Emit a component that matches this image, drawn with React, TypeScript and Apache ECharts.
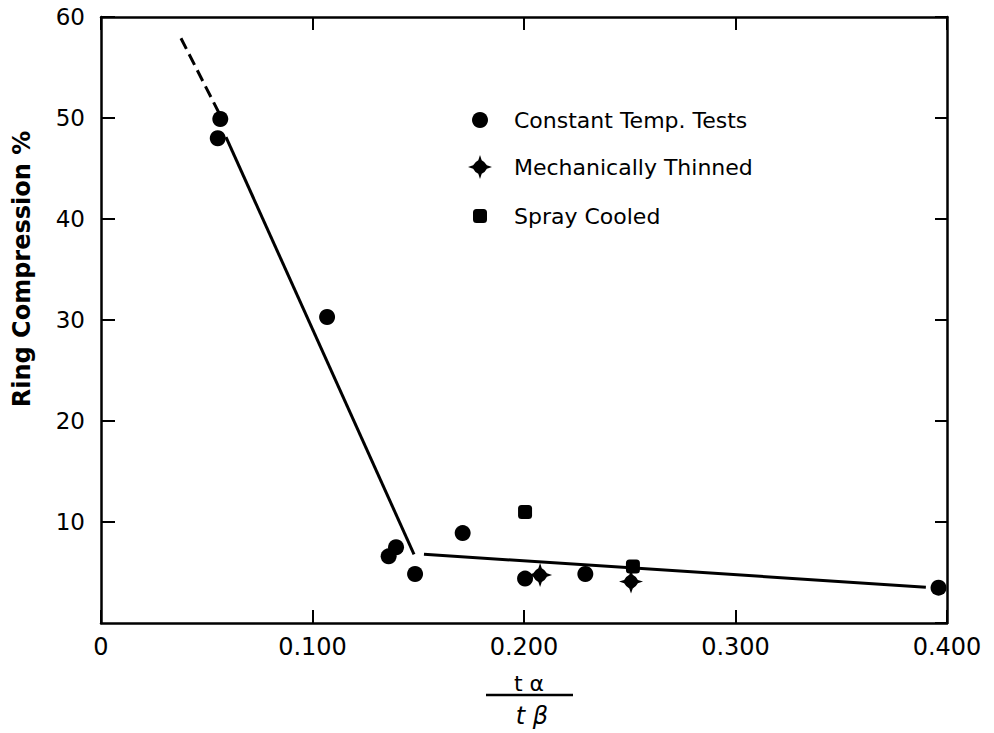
import React, { useEffect, useRef } from 'react';
import * as echarts from 'echarts';

// ---- data ----
const xTickValues = [0, 0.1, 0.2, 0.3, 0.4];
const yTickValues = [10, 20, 30, 40, 50, 60];

const constantTemp: [number, number][] = [
  [0.0564, 49.9],
  [0.0552, 48.0],
  [0.1069, 30.3],
  [0.136, 6.6],
  [0.1395, 7.5],
  [0.1485, 4.85],
  [0.171, 8.9],
  [0.2005, 4.4],
  [0.229, 4.85],
  [0.396, 3.5],
];
const mechThinned: [number, number][] = [
  [0.2076, 4.75],
  [0.2506, 4.1],
];
const sprayCooled: [number, number][] = [
  [0.2005, 11.0],
  [0.2515, 5.6],
];
const fitDashed: [number, number][] = [
  [0.0378, 57.9],
  [0.0558, 50.5],
];
const fitSteep: [number, number][] = [
  [0.0591, 48.1],
  [0.148, 6.8],
];
const fitFlat: [number, number][] = [
  [0.1527, 6.8],
  [0.39, 3.55],
];

const FONT = 'DejaVu Sans';
const STAR =
  'path://M14,0 L16,6 Q20,8 22,12 L28,14 L22,16 Q20,20 16,22 L14,28 L12,22 Q8,20 6,16 L0,14 L6,12 Q8,8 12,6 Z';

export default function App() {
  const ref = useRef<HTMLDivElement>(null);

  useEffect(() => {
    if (!ref.current) return;
    const chart = echarts.init(ref.current, undefined, { renderer: 'svg' });
    const axisLine = { show: true, onZero: false, lineStyle: { color: '#000', width: 2.5 } };
    const tick = (len: number) => ({
      show: true,
      inside: true,
      length: len,
      lineStyle: { color: '#000', width: 2 },
    });
    const legendBase = {
      orient: 'vertical' as const,
      padding: 0,
      selectedMode: false,
    };
    const markStyle = { color: '#000', opacity: 1 };
    chart.setOption({
      animation: false,
      backgroundColor: '#fff',
      grid: { left: 101, top: 17, width: 846, height: 606, show: false },
      xAxis: [
        {
          type: 'value',
          min: 0,
          max: 0.4,
          interval: 0.1,
          position: 'bottom',
          axisLine,
          axisTick: tick(13),
          splitLine: { show: false },
          axisLabel: {
            color: '#000',
            fontSize: 24,
            fontFamily: FONT,
            margin: 12,
            formatter: (v: number) =>
              xTickValues.includes(Math.round(v * 10) / 10)
                ? v === 0
                  ? '0'
                  : v.toFixed(3)
                : '',
          },
        },
        {
          type: 'value',
          min: 0,
          max: 0.4,
          interval: 0.1,
          position: 'top',
          axisLine,
          axisTick: tick(13),
          splitLine: { show: false },
          axisLabel: { show: false },
        },
      ],
      yAxis: [
        {
          type: 'value',
          min: 0,
          max: 60,
          interval: 10,
          position: 'left',
          axisLine,
          axisTick: tick(14),
          splitLine: { show: false },
          axisLabel: {
            color: '#000',
            fontSize: 23,
            fontFamily: FONT,
            margin: 16,
            showMinLabel: false,
            formatter: (v: number) => (yTickValues.includes(v) ? String(v) : ''),
          },
        },
        {
          type: 'value',
          min: 0,
          max: 60,
          interval: 10,
          position: 'right',
          axisLine,
          axisTick: tick(12),
          splitLine: { show: false },
          axisLabel: { show: false },
        },
      ],
      legend: [
        {
          ...legendBase,
          data: [{ name: 'Constant Temp. Tests', icon: 'circle' }],
          left: 472,
          top: 109,
          itemWidth: 16,
          itemHeight: 16,
          itemStyle: { opacity: 1 },
          textStyle: { fontSize: 22, fontFamily: FONT, color: '#000', padding: [0, 0, 0, 21] },
        },
        {
          ...legendBase,
          data: [{ name: 'Mechanically Thinned', icon: STAR }],
          left: 468,
          top: 155,
          itemWidth: 24,
          itemHeight: 24,
          itemStyle: { opacity: 1 },
          textStyle: { fontSize: 22, fontFamily: FONT, color: '#000', padding: [0, 0, 0, 17] },
        },
        {
          ...legendBase,
          data: [{ name: 'Spray Cooled', icon: 'roundRect' }],
          left: 473,
          top: 205,
          itemWidth: 14,
          itemHeight: 14,
          itemStyle: { opacity: 1 },
          textStyle: { fontSize: 22, fontFamily: FONT, color: '#000', padding: [0, 0, 0, 22] },
        },
      ],
      series: [
        {
          name: 'fit-dashed',
          type: 'line',
          data: fitDashed,
          showSymbol: false,
          silent: true,
          lineStyle: { color: '#000', width: 3, type: [12, 6] },
        },
        {
          name: 'fit-steep',
          type: 'line',
          data: fitSteep,
          showSymbol: false,
          silent: true,
          lineStyle: { color: '#000', width: 3 },
        },
        {
          name: 'fit-flat',
          type: 'line',
          data: fitFlat,
          showSymbol: false,
          silent: true,
          lineStyle: { color: '#000', width: 3 },
        },
        {
          name: 'Constant Temp. Tests',
          type: 'scatter',
          data: constantTemp,
          symbol: 'circle',
          symbolSize: 16,
          itemStyle: markStyle,
          z: 5,
        },
        {
          name: 'Mechanically Thinned',
          type: 'scatter',
          data: mechThinned,
          symbol: STAR,
          symbolSize: 24,
          itemStyle: markStyle,
          z: 5,
        },
        {
          name: 'Spray Cooled',
          type: 'scatter',
          data: sprayCooled,
          symbol: 'roundRect',
          symbolSize: 14,
          itemStyle: markStyle,
          z: 5,
        },
      ],
      graphic: [
        {
          type: 'text',
          x: 22,
          y: 269,
          rotation: Math.PI / 2,
          style: {
            text: 'Ring Compression %',
            font: `bold 24px "${FONT}"`,
            fill: '#000',
            align: 'center',
            verticalAlign: 'middle',
          },
        },
        {
          type: 'text',
          x: 529,
          y: 683,
          style: {
            text: 't α',
            font: `22px "${FONT}"`,
            fill: '#000',
            align: 'center',
            verticalAlign: 'middle',
          },
        },
        {
          type: 'line',
          shape: { x1: 486, y1: 695, x2: 573, y2: 695 },
          style: { stroke: '#000', lineWidth: 2.5 },
        },
        {
          type: 'text',
          x: 532,
          y: 716,
          style: {
            text: 't β',
            font: `italic 24px "${FONT}"`,
            fill: '#000',
            align: 'center',
            verticalAlign: 'middle',
          },
        },
      ],
    });
    return () => chart.dispose();
  }, []);

  return (
    <div
      ref={ref}
      style={{ position: 'fixed', left: 0, top: 0, width: 994, height: 733, background: '#fff' }}
    />
  );
}
